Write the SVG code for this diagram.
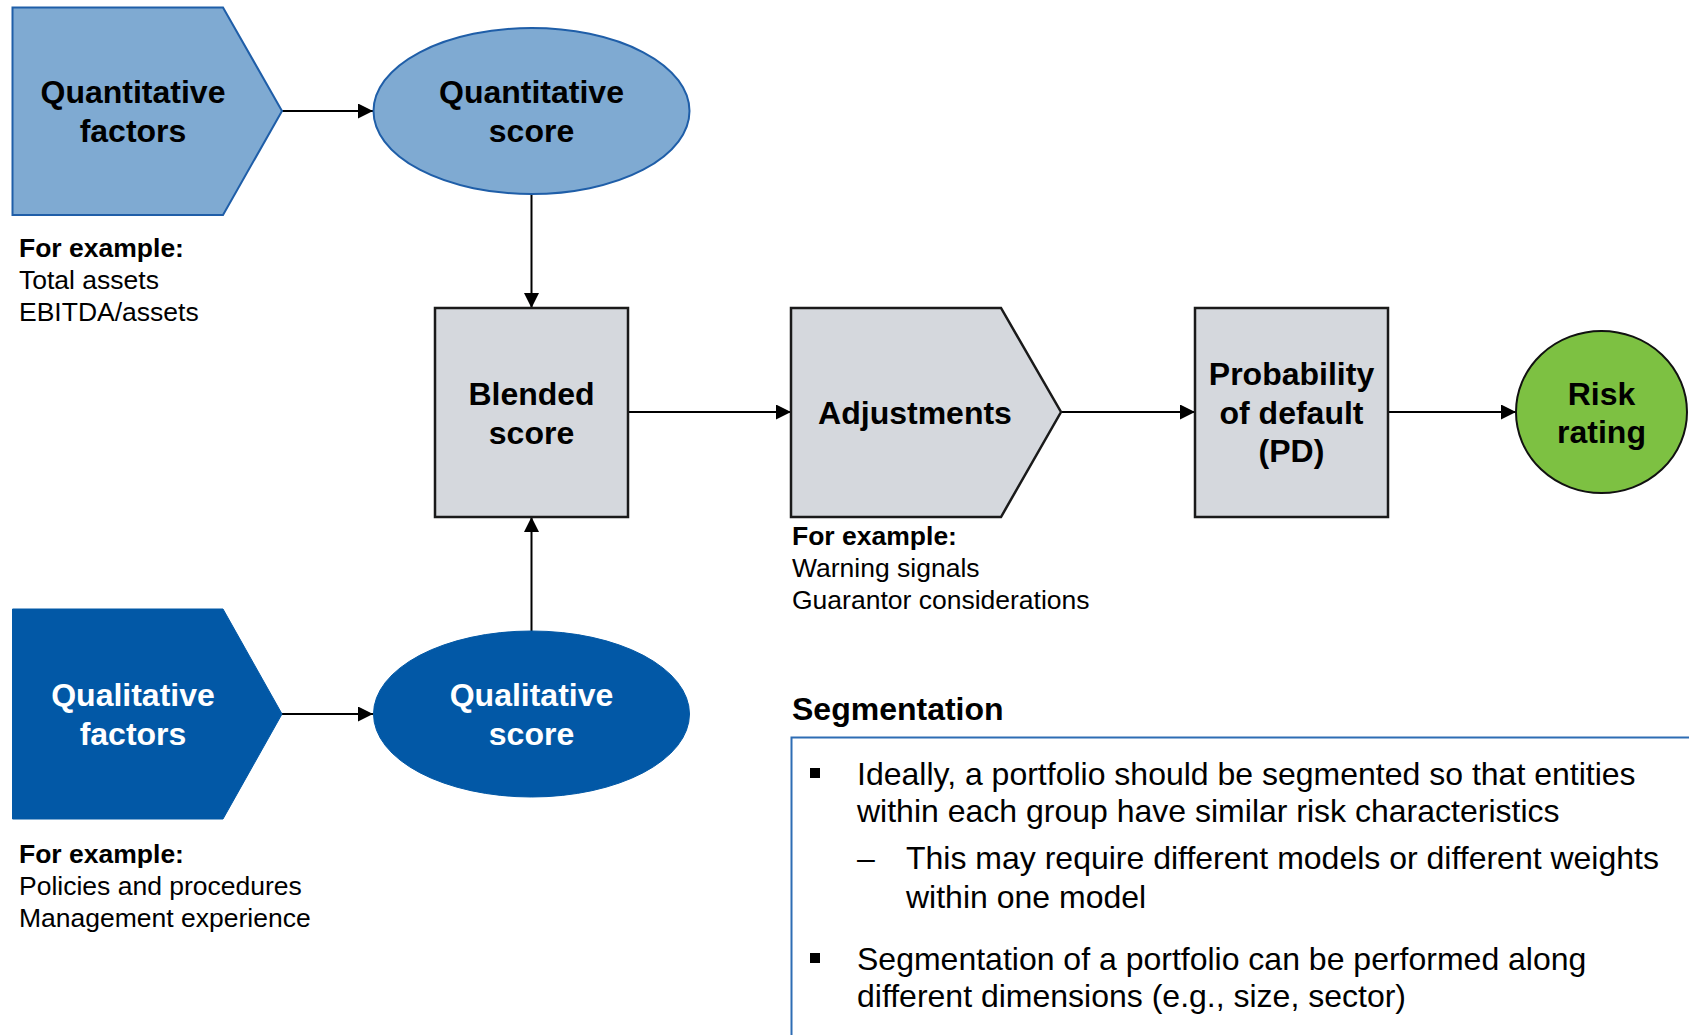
<svg xmlns="http://www.w3.org/2000/svg" width="1689" height="1035" viewBox="0 0 1689 1035">
<style>
text{font-family:"Liberation Sans",Arial,Helvetica,sans-serif;fill:#000}
.nb{font-size:32px;font-weight:bold;text-anchor:middle}
.w{fill:#fff}
.exb{font-size:26.5px;font-weight:bold}
.ex{font-size:26.5px}
.body{font-size:32px}
.conn{stroke:#000;stroke-width:2;fill:none}
.lt{fill:#7FAAD2;stroke:#1F5EA8;stroke-width:2}
.dk{fill:#0258A6;stroke:#0258A6;stroke-width:1}
.gr{fill:#D5D8DD;stroke:#1a1a1a;stroke-width:2.5}
</style>
<defs>
<marker id="ah" markerUnits="userSpaceOnUse" markerWidth="15" markerHeight="15" refX="15" refY="7.5" orient="auto">
<path d="M0,0 L15,7.5 L0,15 z" fill="#000"/>
</marker>
</defs>
<rect width="1689" height="1035" fill="#fff"/>

<g id="connectors">
<line class="conn" x1="282" y1="111" x2="373" y2="111" marker-end="url(#ah)"/>
<line class="conn" x1="531.5" y1="194" x2="531.5" y2="308" marker-end="url(#ah)"/>
<line class="conn" x1="531.5" y1="631" x2="531.5" y2="517" marker-end="url(#ah)"/>
<line class="conn" x1="282" y1="714" x2="373" y2="714" marker-end="url(#ah)"/>
<line class="conn" x1="628" y1="412" x2="791" y2="412" marker-end="url(#ah)"/>
<line class="conn" x1="1061" y1="412" x2="1195" y2="412" marker-end="url(#ah)"/>
<line class="conn" x1="1388" y1="412" x2="1516" y2="412" marker-end="url(#ah)"/>
</g>

<g id="quant-factors">
<polygon class="lt" points="12.5,7.5 223,7.5 282,111 223,215 12.5,215"/>
<text class="nb" x="133" y="103">Quantitative</text>
<text class="nb" x="133" y="142">factors</text>
</g>
<g id="quant-example">
<text class="exb" x="19" y="257">For example:</text>
<text class="ex" x="19" y="289">Total assets</text>
<text class="ex" x="19" y="321">EBITDA/assets</text>
</g>

<g id="quant-score">
<ellipse class="lt" cx="531.5" cy="111" rx="158" ry="83"/>
<text class="nb" x="531.5" y="103">Quantitative</text>
<text class="nb" x="531.5" y="142">score</text>
</g>

<g id="blended-score">
<rect class="gr" x="435" y="308" width="193" height="209"/>
<text class="nb" x="531.5" y="405">Blended</text>
<text class="nb" x="531.5" y="444">score</text>
</g>

<g id="qual-factors">
<polygon class="dk" points="12.5,609 223,609 282,714 223,819 12.5,819"/>
<text class="nb w" x="133" y="706">Qualitative</text>
<text class="nb w" x="133" y="745">factors</text>
</g>
<g id="qual-example">
<text class="exb" x="19" y="863">For example:</text>
<text class="ex" x="19" y="895">Policies and procedures</text>
<text class="ex" x="19" y="927">Management experience</text>
</g>

<g id="qual-score">
<ellipse class="dk" cx="531.5" cy="714" rx="158" ry="83"/>
<text class="nb w" x="531.5" y="706">Qualitative</text>
<text class="nb w" x="531.5" y="745">score</text>
</g>

<g id="adjustments">
<polygon class="gr" points="791,308 1001,308 1061,412 1001,517 791,517"/>
<text class="nb" x="915" y="424">Adjustments</text>
</g>
<g id="adj-example">
<text class="exb" x="792" y="545">For example:</text>
<text class="ex" x="792" y="577">Warning signals</text>
<text class="ex" x="792" y="609">Guarantor considerations</text>
</g>

<g id="pd">
<rect class="gr" x="1195" y="308" width="193" height="209"/>
<text class="nb" x="1291.5" y="385">Probability</text>
<text class="nb" x="1291.5" y="424">of default</text>
<text class="nb" x="1291.5" y="462">(PD)</text>
</g>

<g id="risk-rating">
<ellipse cx="1601.5" cy="412" rx="85.5" ry="81" fill="#7DC142" stroke="#111" stroke-width="2"/>
<text class="nb" x="1601.5" y="405">Risk</text>
<text class="nb" x="1601.5" y="443">rating</text>
</g>

<g id="segmentation">
<text x="792" y="720" style="font-size:32px;font-weight:bold">Segmentation</text>
<rect x="791.5" y="737.5" width="1000" height="400" fill="none" stroke="#2E6DB4" stroke-width="2"/>
<rect x="810" y="768" width="10" height="10" fill="#000"/>
<text class="body" x="857" y="785">Ideally, a portfolio should be segmented so that entities</text>
<text class="body" x="857" y="822">within each group have similar risk characteristics</text>
<text class="body" x="857" y="869">–</text>
<text class="body" x="906" y="869">This may require different models or different weights</text>
<text class="body" x="906" y="908">within one model</text>
<rect x="810" y="953" width="10" height="10" fill="#000"/>
<text class="body" x="857" y="970">Segmentation of a portfolio can be performed along</text>
<text class="body" x="857" y="1007">different dimensions (e.g., size, sector)</text>
</g>
</svg>
